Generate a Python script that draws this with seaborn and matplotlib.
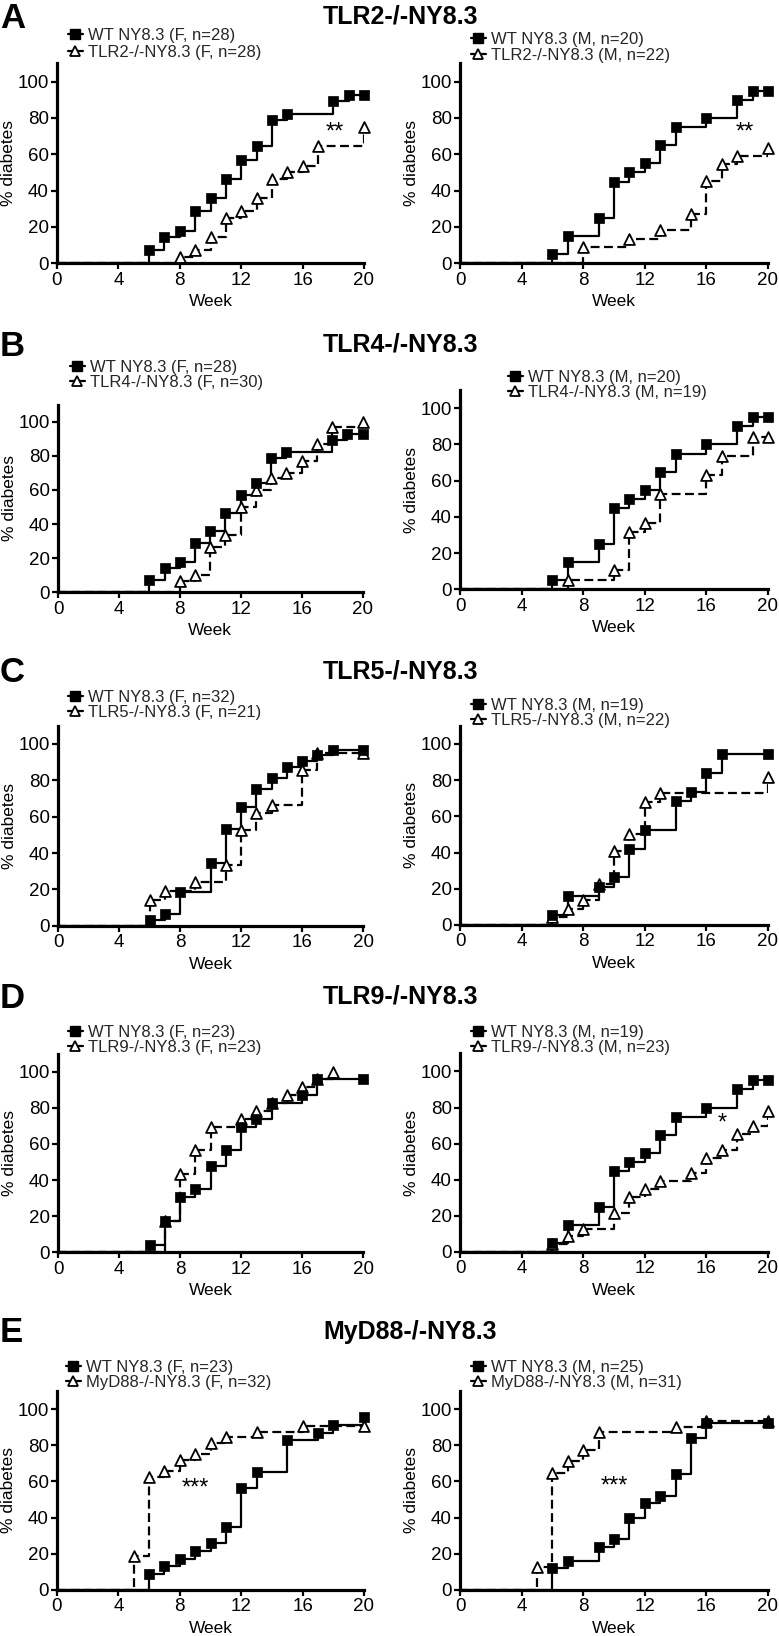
import matplotlib
matplotlib.use("Agg")
import matplotlib.pyplot as plt
import seaborn as sns
import pandas as pd
from matplotlib.lines import Line2D

# ---------------- data ----------------
week_ticks = [0, 4, 8, 12, 16, 20]
pct_ticks = [0, 20, 40, 60, 80, 100]

letters = ["A", "B", "C", "D", "E"]
titles = ["TLR2-/-NY8.3", "TLR4-/-NY8.3", "TLR5-/-NY8.3", "TLR9-/-NY8.3", "MyD88-/-NY8.3"]

# A: TLR2
a_f_wt_week = [6, 7, 8, 9, 10, 11, 12, 13, 14, 15, 18, 19, 20]
a_f_wt_pct = [7.1, 14.3, 17.9, 28.6, 35.7, 46.4, 57.1, 64.3, 78.6, 82.1, 89.3, 92.9, 92.9]
a_f_ko_week = [8, 9, 10, 11, 12, 13, 14, 15, 16, 17, 20]
a_f_ko_pct = [3.6, 7.1, 14.3, 25.0, 28.6, 35.7, 46.4, 50.0, 53.6, 64.3, 75.0]
a_m_wt_week = [6, 7, 9, 10, 11, 12, 13, 14, 16, 18, 19, 20]
a_m_wt_pct = [5, 15, 25, 45, 50, 55, 65, 75, 80, 90, 95, 95]
a_m_ko_week = [8, 11, 13, 15, 16, 17, 18, 20]
a_m_ko_pct = [9.1, 13.6, 18.2, 27.3, 45.5, 54.5, 59.1, 63.6]

# B: TLR4
b_f_wt_week = [6, 7, 8, 9, 10, 11, 12, 13, 14, 15, 18, 19, 20]
b_f_wt_pct = [7.1, 14.3, 17.9, 28.6, 35.7, 46.4, 57.1, 64.3, 78.6, 82.1, 89.3, 92.9, 92.9]
b_f_ko_week = [8, 9, 10, 11, 12, 13, 14, 15, 16, 17, 18, 20]
b_f_ko_pct = [6.7, 10.0, 26.7, 33.3, 50.0, 60.0, 66.7, 70.0, 76.7, 86.7, 96.7, 100.0]
b_m_wt_week = [6, 7, 9, 10, 11, 12, 13, 14, 16, 18, 19, 20]
b_m_wt_pct = [5, 15, 25, 45, 50, 55, 65, 75, 80, 90, 95, 95]
b_m_ko_week = [7, 10, 11, 12, 13, 16, 17, 19, 20]
b_m_ko_pct = [5.3, 10.5, 31.6, 36.8, 52.6, 63.2, 73.7, 84.2, 84.2]

# C: TLR5
c_f_wt_week = [6, 7, 8, 10, 11, 12, 13, 14, 15, 16, 17, 18, 20]
c_f_wt_pct = [3.1, 6.3, 18.8, 34.4, 53.1, 65.6, 75.0, 81.3, 87.5, 90.6, 93.8, 96.9, 96.9]
c_f_ko_week = [6, 7, 9, 11, 12, 13, 14, 16, 17, 20]
c_f_ko_pct = [14.3, 19.0, 23.8, 33.3, 52.4, 61.9, 66.7, 85.7, 95.2, 95.2]
c_m_wt_week = [6, 7, 9, 10, 11, 12, 14, 15, 16, 17, 20]
c_m_wt_pct = [5.3, 15.8, 21.1, 26.3, 42.1, 52.6, 68.4, 73.7, 84.2, 94.7, 94.7]
c_m_ko_week = [6, 7, 8, 9, 10, 11, 12, 13, 20]
c_m_ko_pct = [4.5, 9.1, 13.6, 22.7, 40.9, 50.0, 68.2, 72.7, 81.8]

# D: TLR9
d_f_wt_week = [6, 7, 8, 9, 10, 11, 12, 13, 14, 16, 17, 20]
d_f_wt_pct = [4.3, 17.4, 30.4, 34.8, 47.8, 56.5, 69.6, 73.9, 82.6, 87.0, 95.7, 95.7]
d_f_ko_week = [7, 8, 9, 10, 12, 13, 14, 15, 16, 17, 18]
d_f_ko_pct = [17.4, 43.5, 56.5, 69.6, 73.9, 78.3, 82.6, 87.0, 91.3, 95.7, 100.0]
d_m_wt_week = [6, 7, 9, 10, 11, 12, 13, 14, 16, 18, 19, 20]
d_m_wt_pct = [5, 15, 25, 45, 50, 55, 65, 75, 80, 90, 95, 95]
d_m_ko_week = [6, 7, 8, 10, 11, 12, 13, 15, 16, 17, 18, 19, 20]
d_m_ko_pct = [4.3, 8.7, 13.0, 21.7, 30.4, 34.8, 39.1, 43.5, 52.2, 56.5, 65.2, 69.6, 78.3]

# E: MyD88
e_f_wt_week = [6, 7, 8, 9, 10, 11, 12, 13, 15, 17, 18, 20]
e_f_wt_pct = [8.7, 13.0, 17.4, 21.7, 26.1, 34.8, 56.5, 65.2, 82.6, 87.0, 91.3, 95.7]
e_f_ko_week = [5, 6, 7, 8, 9, 10, 11, 13, 16, 20]
e_f_ko_pct = [18.8, 62.5, 65.6, 71.9, 75.0, 81.3, 84.4, 87.5, 90.6, 90.6]
e_m_wt_week = [6, 7, 9, 10, 11, 12, 13, 14, 15, 16, 20]
e_m_wt_pct = [12, 16, 24, 28, 40, 48, 52, 64, 84, 92, 92]
e_m_ko_week = [5, 6, 7, 8, 9, 14, 16, 20]
e_m_ko_pct = [12.9, 64.5, 71.0, 77.4, 87.1, 90.3, 93.5, 93.5]

legend_labels = [
    ("WT NY8.3 (F, n=28)", "TLR2-/-NY8.3 (F, n=28)"), ("WT NY8.3 (M, n=20)", "TLR2-/-NY8.3 (M, n=22)"),
    ("WT NY8.3 (F, n=28)", "TLR4-/-NY8.3 (F, n=30)"), ("WT NY8.3 (M, n=20)", "TLR4-/-NY8.3 (M, n=19)"),
    ("WT NY8.3 (F, n=32)", "TLR5-/-NY8.3 (F, n=21)"), ("WT NY8.3 (M, n=19)", "TLR5-/-NY8.3 (M, n=22)"),
    ("WT NY8.3 (F, n=23)", "TLR9-/-NY8.3 (F, n=23)"), ("WT NY8.3 (M, n=19)", "TLR9-/-NY8.3 (M, n=23)"),
    ("WT NY8.3 (F, n=23)", "MyD88-/-NY8.3 (F, n=32)"), ("WT NY8.3 (M, n=25)", "MyD88-/-NY8.3 (M, n=31)"),
]

sig_text = ["**", "**", None, None, None, None, None, "*", "***", "***"]
sig_week = [18.1, 18.5, None, None, None, None, None, 17.0, 9.0, 10.0]
sig_pct = [72, 72, None, None, None, None, None, 71, 56, 57]

series = [
    (a_f_wt_week, a_f_wt_pct, a_f_ko_week, a_f_ko_pct),
    (a_m_wt_week, a_m_wt_pct, a_m_ko_week, a_m_ko_pct),
    (b_f_wt_week, b_f_wt_pct, b_f_ko_week, b_f_ko_pct),
    (b_m_wt_week, b_m_wt_pct, b_m_ko_week, b_m_ko_pct),
    (c_f_wt_week, c_f_wt_pct, c_f_ko_week, c_f_ko_pct),
    (c_m_wt_week, c_m_wt_pct, c_m_ko_week, c_m_ko_pct),
    (d_f_wt_week, d_f_wt_pct, d_f_ko_week, d_f_ko_pct),
    (d_m_wt_week, d_m_wt_pct, d_m_ko_week, d_m_ko_pct),
    (e_f_wt_week, e_f_wt_pct, e_f_ko_week, e_f_ko_pct),
    (e_m_wt_week, e_m_wt_pct, e_m_ko_week, e_m_ko_pct),
]

# ---------------- layout (pixels) ----------------
W, H = 779, 1636
# x of week 0, x of week 20, y of 0 %, pixels per %
axes_px = [
    (57, 364, 263.3, 1.817), (460, 768, 263.3, 1.817),
    (58, 362.5, 592.3, 1.707), (460, 768, 589.3, 1.81),
    (58, 363, 925.7, 1.817), (460, 768, 925.0, 1.81),
    (58, 363, 1252.3, 1.806), (460, 768, 1252.0, 1.806),
    (57, 364, 1590.0, 1.81), (460, 768, 1590.0, 1.81),
]
# legend: left of handle, first-row centre y, row spacing
legend_px = [
    (67.5, 38.3, 0.08), (470.5, 41.7, 0.08),
    (69.5, 370, 0.0), (507.5, 380, 0.0),
    (67.5, 700, 0.0), (470.5, 708.3, 0.0),
    (67.5, 1035, 0.0), (470.5, 1035, 0.0),
    (65.5, 1370, 0.0), (470.5, 1370, 0.0),
]
title_y = [15, 343, 670, 995, 1330]

sns.set_theme(style="ticks")
plt.rcParams["font.family"] = ["Liberation Sans", "DejaVu Sans"]

fig = plt.figure(figsize=(W / 100, H / 100), dpi=100)

YTOP = 110
LW = 1.6
MS = 7.8
LEG_FS = 12.0
TICK_FS = 13.5

for i, (wt_w, wt_p, ko_w, ko_p) in enumerate(series):
    x0, x20, y0, ppu = axes_px[i]
    hpx = ppu * YTOP
    ax = fig.add_axes([x0 / W, 1 - y0 / H, (x20 - x0) / W, hpx / H])

    # knockout (dashed, open triangles)
    ko_df = pd.DataFrame({"Week": [0] + ko_w, "pct": [0] + ko_p})
    sns.lineplot(data=ko_df, x="Week", y="pct", ax=ax, color="black", lw=LW,
                 drawstyle="steps-post", linestyle=(0, (4, 2)), estimator=None,
                 sort=False, legend=False, zorder=2)
    sns.scatterplot(x=ko_w, y=ko_p, ax=ax, marker="^", s=MS ** 2, color="white",
                    edgecolor="black", linewidth=1.3, clip_on=False, zorder=4, legend=False)

    # wild type (solid, filled squares)
    wt_df = pd.DataFrame({"Week": [0] + wt_w, "pct": [0] + wt_p})
    sns.lineplot(data=wt_df, x="Week", y="pct", ax=ax, color="black", lw=LW,
                 drawstyle="steps-post", estimator=None, sort=False, legend=False, zorder=3)
    sns.scatterplot(x=wt_w, y=wt_p, ax=ax, marker="s", s=MS ** 2 * 0.95, color="black",
                    edgecolor="black", linewidth=0.5, clip_on=False, zorder=5, legend=False)

    ax.set_xlim(0, 20)
    ax.set_ylim(0, YTOP)
    ax.set_xticks(week_ticks)
    ax.set_yticks(pct_ticks)
    sns.despine(ax=ax)
    for s in ("left", "bottom"):
        ax.spines[s].set_linewidth(2.3)
        ax.spines[s].set_color("black")
    ax.tick_params(axis="both", direction="out", length=4, width=1.6, colors="black",
                   labelsize=TICK_FS, pad=2)
    ax.set_xlabel("Week", fontsize=12.5, color="black")
    ax.set_ylabel("% diabetes", fontsize=12.5, color="black")
    ax.xaxis.set_label_coords(0.5, -31 / hpx)
    ax.yaxis.set_label_coords(-41 / (x20 - x0), 0.5)

    if sig_text[i]:
        ax.text(sig_week[i], sig_pct[i], sig_text[i], ha="center", va="center",
                fontsize=17, color="black")

    lx, ly, lsp = legend_px[i]
    handles = [
        Line2D([0], [0], color="black", lw=LW, marker="s", markersize=MS * 0.95,
               markerfacecolor="black", markeredgecolor="black"),
        Line2D([0], [0], color="black", lw=LW, marker="^", markersize=MS,
               markerfacecolor="white", markeredgecolor="black", markeredgewidth=1.3),
    ]
    ax.legend(handles, list(legend_labels[i]), loc="upper left",
              bbox_to_anchor=(lx / W, 1 - (ly - 10) / H), bbox_transform=fig.transFigure,
              frameon=False, borderpad=0, borderaxespad=0, handlelength=0.95,
              handletextpad=0.3, labelspacing=lsp, fontsize=LEG_FS)

for r in range(5):
    fig.text(0 / W, 1 - (title_y[r] + 12.5) / H, letters[r], ha="left", va="baseline",
             fontsize=25, fontweight="bold", color="black")
    fig.text(323 / W, 1 - (title_y[r] + 9) / H, titles[r], ha="left", va="baseline",
             fontsize=18, fontweight="bold", color="black")

fig.savefig("out.png", dpi=100)
